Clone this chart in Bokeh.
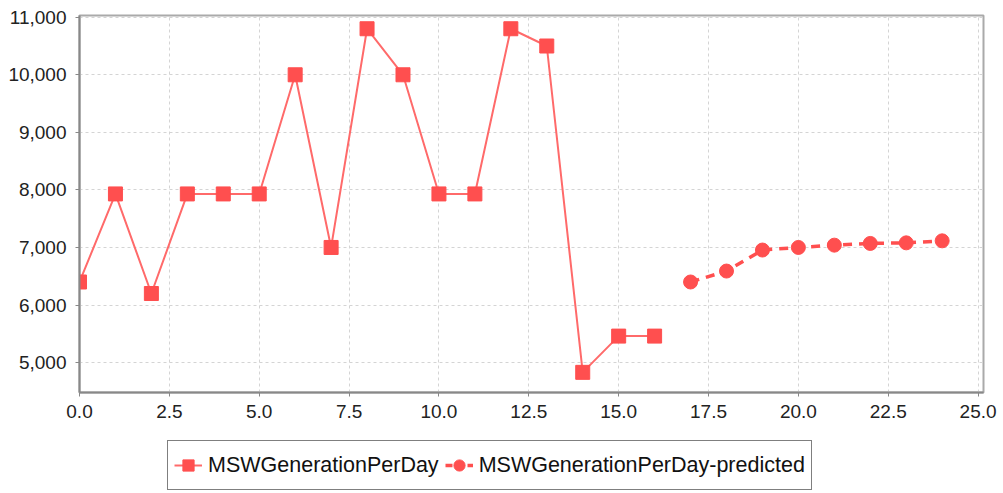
from bokeh.plotting import figure
from bokeh.layouts import column
from bokeh.models import Legend, LegendItem, NumeralTickFormatter, FixedTicker
from bokeh.embed import file_html
from bokeh.resources import INLINE

actual_x = list(range(0, 17))
actual_y = [6400, 7930, 6200, 7930, 7930, 7930, 10000, 7000, 10800, 10000,
            7930, 7930, 10800, 10500, 4830, 5460, 5460]
pred_x = list(range(17, 25))
pred_y = [6400, 6590, 6955, 7000, 7040, 7070, 7080, 7115]
x_ticks = [0, 2.5, 5, 7.5, 10, 12.5, 15, 17.5, 20, 22.5, 25]
y_ticks = [5000, 6000, 7000, 8000, 9000, 10000, 11000]
series_names = ["MSWGenerationPerDay", "MSWGenerationPerDay-predicted"]

FONT = "Liberation Sans"
RED = "#ff4f4f"
LINE = "#ff6a6a"

p = figure(width=1003, height=437, output_backend="svg", toolbar_location=None,
           x_range=(0, 25.15), y_range=(4480, 11030),
           min_border_left=79, min_border_right=20, min_border_top=15, min_border_bottom=45)
p.background_fill_color = "white"
p.border_fill_color = "white"
p.outline_line_color = "#aaaaaa"
p.outline_line_width = 2

l1 = p.line(actual_x, actual_y, line_color=LINE, line_width=2)
s1 = p.scatter(actual_x, actual_y, marker="square", size=14, fill_color=RED, line_color=RED)
l2 = p.line(pred_x, pred_y, line_color=RED, line_width=3.5, line_dash="9 7")
s2 = p.scatter(pred_x, pred_y, marker="circle", size=14, fill_color=RED, line_color=RED)

p.xaxis.ticker = FixedTicker(ticks=x_ticks)
p.yaxis.ticker = FixedTicker(ticks=y_ticks)
p.xaxis.formatter = NumeralTickFormatter(format="0.0")
p.yaxis.formatter = NumeralTickFormatter(format="0,0")
p.axis.major_label_text_font = FONT
p.axis.major_label_text_font_size = "19px"
p.axis.major_label_text_color = "#222222"
p.axis.axis_line_color = "#888888"
p.axis.axis_line_width = 2
p.axis.major_tick_line_color = "#888888"
p.axis.major_tick_in = 0
p.axis.major_tick_out = 4
p.axis.minor_tick_line_color = None
p.yaxis.major_label_standoff = 9
p.xaxis.major_label_standoff = 8

p.xgrid.ticker = FixedTicker(ticks=x_ticks)
p.ygrid.ticker = FixedTicker(ticks=y_ticks)
p.grid.grid_line_color = "#d4d4d4"
p.grid.grid_line_dash = "3 3"
p.grid.grid_line_width = 1

# legend panel beneath the chart
q = figure(width=1003, height=56, output_backend="svg", toolbar_location=None,
           x_range=(0, 1), y_range=(0, 1), min_border=0)
q.axis.visible = False
q.grid.visible = False
q.outline_line_color = None
q.background_fill_color = "white"
q.border_fill_color = "white"
hx, hy = [-5, -4], [-5, -5]
g1 = q.line(hx, hy, line_color=LINE, line_width=2)
g1s = q.scatter(hx, hy, marker="square", size=13, fill_color=RED, line_color=RED)
g2 = q.line(hx, hy, line_color=RED, line_width=3.5, line_dash="7 4")
g2s = q.scatter(hx, hy, marker="circle", size=13, fill_color=RED, line_color=RED)

legend = Legend(items=[
    LegendItem(label=series_names[0], renderers=[g1, g1s]),
    LegendItem(label=series_names[1], renderers=[g2, g2s]),
], orientation="horizontal", location=(88, 3))
legend.label_text_font = FONT
legend.label_text_font_size = "21.5px"
legend.label_text_color = "#111111"
legend.border_line_color = "black"
legend.border_line_width = 1.5
legend.padding = 6
legend.spacing = 6
legend.margin = 0
legend.glyph_width = 28
legend.glyph_height = 36
legend.label_standoff = 6
legend.label_height = 36
q.add_layout(legend, "center")

layout = column(p, q, spacing=0)
open("out.html", "w").write(file_html(layout, INLINE))
